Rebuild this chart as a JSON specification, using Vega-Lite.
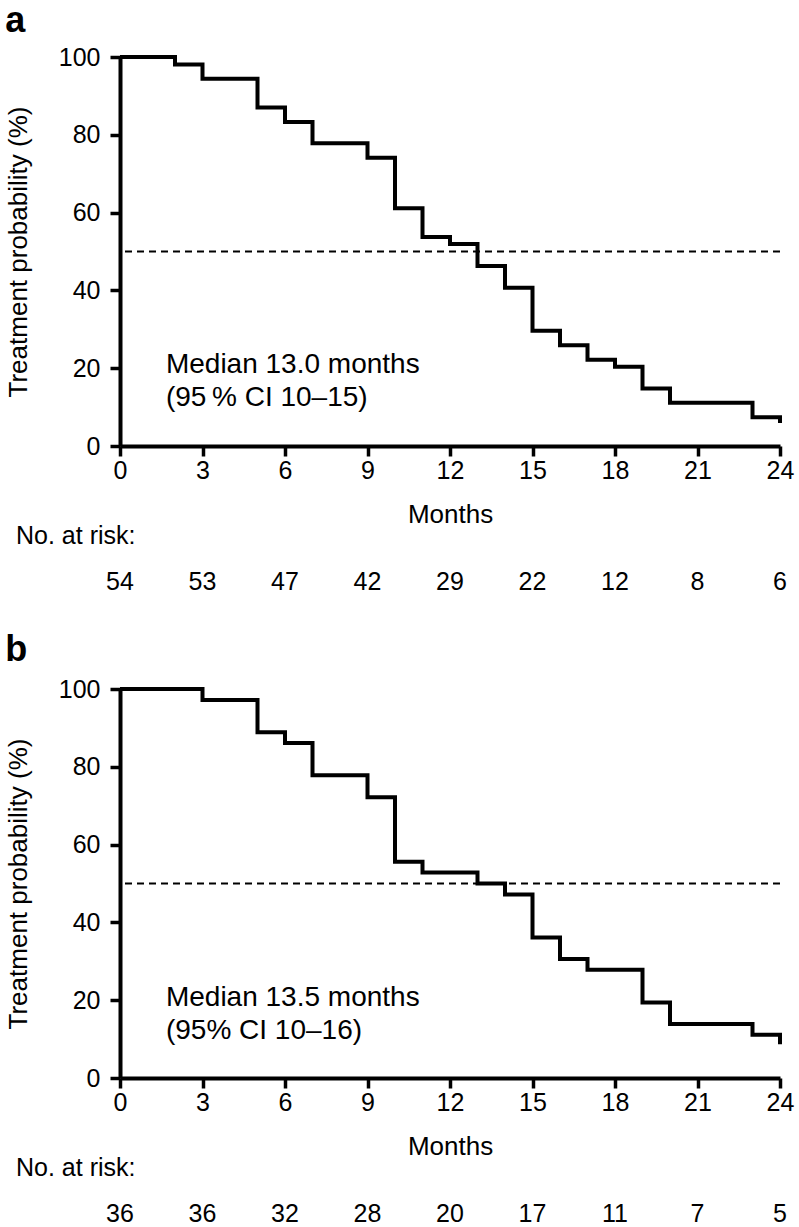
{
  "$schema": "https://vega.github.io/schema/vega-lite/v6.json",
  "background": "white",
  "padding": {"left": 5, "top": 3, "right": 12, "bottom": 0},
  "config": {
    "view": {"stroke": null},
    "font": "Liberation Sans",
    "axis": {
      "domainColor": "black", "domainWidth": 4, "tickColor": "black", "tickWidth": 3.5, "tickSize": 10,
      "labelColor": "black", "labelFontSize": 25, "labelFont": "Liberation Sans",
      "titleColor": "black", "titleFontSize": 26, "titleFontWeight": "normal", "titleFont": "Liberation Sans",
      "grid": false
    }
  },
  "datasets": {
    "a": [
      {"month": 0, "surv": 100}, {"month": 2, "surv": 98.1}, {"month": 3, "surv": 94.4}, {"month": 5, "surv": 87.0},
      {"month": 6, "surv": 83.3}, {"month": 7, "surv": 77.8}, {"month": 9, "surv": 74.1}, {"month": 10, "surv": 61.1},
      {"month": 11, "surv": 53.7}, {"month": 12, "surv": 51.9}, {"month": 13, "surv": 46.3}, {"month": 14, "surv": 40.7},
      {"month": 15, "surv": 29.6}, {"month": 16, "surv": 25.9}, {"month": 17, "surv": 22.2}, {"month": 18, "surv": 20.4},
      {"month": 19, "surv": 14.8}, {"month": 20, "surv": 11.1}, {"month": 23, "surv": 7.4}, {"month": 24, "surv": 5.9}
    ],
    "b": [
      {"month": 0, "surv": 100}, {"month": 3, "surv": 97.2}, {"month": 5, "surv": 88.9}, {"month": 6, "surv": 86.1},
      {"month": 7, "surv": 77.8}, {"month": 9, "surv": 72.2}, {"month": 10, "surv": 55.6}, {"month": 11, "surv": 52.8},
      {"month": 13, "surv": 50.0}, {"month": 14, "surv": 47.2}, {"month": 15, "surv": 36.1}, {"month": 16, "surv": 30.6},
      {"month": 17, "surv": 27.8}, {"month": 19, "surv": 19.4}, {"month": 20, "surv": 13.9}, {"month": 23, "surv": 11.1},
      {"month": 24, "surv": 8.7}
    ],
    "riskA": [
      {"month": 0, "n": 54}, {"month": 3, "n": 53}, {"month": 6, "n": 47}, {"month": 9, "n": 42}, {"month": 12, "n": 29},
      {"month": 15, "n": 22}, {"month": 18, "n": 12}, {"month": 21, "n": 8}, {"month": 24, "n": 6}
    ],
    "riskB": [
      {"month": 0, "n": 36}, {"month": 3, "n": 36}, {"month": 6, "n": 32}, {"month": 9, "n": 28}, {"month": 12, "n": 20},
      {"month": 15, "n": 17}, {"month": 18, "n": 11}, {"month": 21, "n": 7}, {"month": 24, "n": 5}
    ],
    "noteA": [{"line1": "Median 13.0 months", "line2": "(95\u2009% CI 10\u201315)"}],
    "noteB": [{"line1": "Median 13.5 months", "line2": "(95% CI 10\u201316)"}]
  },
  "spacing": 35,
  "vconcat": [
    {
      "spacing": -3,
      "vconcat": [
        {
          "title": {"text": "a", "anchor": "start", "frame": "bounds", "fontSize": 36, "fontWeight": "bold", "color": "black", "offset": 5},
          "width": 660, "height": 389,
          "layer": [
            {
              "data": {"name": "a"},
              "mark": {"type": "line", "interpolate": "step-after", "color": "black", "strokeWidth": 4, "strokeJoin": "miter"},
              "encoding": {
                "x": {"field": "month", "type": "quantitative", "scale": {"domain": [0, 24], "nice": false},
                      "axis": {"values": [0, 3, 6, 9, 12, 15, 18, 21, 24], "title": "Months", "labelPadding": 2, "titlePadding": 18, "labelFlush": false}},
                "y": {"field": "surv", "type": "quantitative", "scale": {"domain": [0, 100], "nice": false},
                      "axis": {"values": [0, 20, 40, 60, 80, 100], "title": "Treatment probability (%)", "labelPadding": 10, "titlePadding": 27}},
                "order": {"field": "month", "type": "quantitative"}
              }
            },
            {
              "data": {"name": "noteA"},
              "mark": {"type": "rule", "strokeDash": [7, 5], "strokeWidth": 1.8, "color": "black"},
              "encoding": {"y": {"datum": 50}}
            },
            {
              "data": {"name": "noteA"},
              "mark": {"type": "text", "align": "left", "baseline": "alphabetic", "fontSize": 28, "color": "black"},
              "encoding": {"x": {"datum": 1.67}, "y": {"datum": 18.8}, "text": {"field": "line1"}}
            },
            {
              "data": {"name": "noteA"},
              "mark": {"type": "text", "align": "left", "baseline": "alphabetic", "fontSize": 28, "color": "black"},
              "encoding": {"x": {"datum": 1.67}, "y": {"datum": 10.3}, "text": {"field": "line2"}}
            }
          ]
        },
        {
          "title": {"text": "No. at risk:", "anchor": "start", "frame": "group", "dx": -104, "fontSize": 25, "fontWeight": "normal", "color": "black", "offset": 18},
          "width": 660, "height": 30,
          "data": {"name": "riskA"},
          "mark": {"type": "text", "fontSize": 25, "color": "black", "baseline": "middle"},
          "encoding": {
            "x": {"field": "month", "type": "quantitative", "scale": {"domain": [0, 24], "nice": false}, "axis": null},
            "text": {"field": "n", "type": "quantitative"}
          }
        }
      ]
    },
    {
      "spacing": -3,
      "vconcat": [
        {
          "title": {"text": "b", "anchor": "start", "frame": "bounds", "fontSize": 36, "fontWeight": "bold", "color": "black", "offset": 8},
          "width": 660, "height": 389,
          "layer": [
            {
              "data": {"name": "b"},
              "mark": {"type": "line", "interpolate": "step-after", "color": "black", "strokeWidth": 4, "strokeJoin": "miter"},
              "encoding": {
                "x": {"field": "month", "type": "quantitative", "scale": {"domain": [0, 24], "nice": false},
                      "axis": {"values": [0, 3, 6, 9, 12, 15, 18, 21, 24], "title": "Months", "labelPadding": 2, "titlePadding": 18, "labelFlush": false}},
                "y": {"field": "surv", "type": "quantitative", "scale": {"domain": [0, 100], "nice": false},
                      "axis": {"values": [0, 20, 40, 60, 80, 100], "title": "Treatment probability (%)", "labelPadding": 10, "titlePadding": 27}},
                "order": {"field": "month", "type": "quantitative"}
              }
            },
            {
              "data": {"name": "noteB"},
              "mark": {"type": "rule", "strokeDash": [7, 5], "strokeWidth": 1.8, "color": "black"},
              "encoding": {"y": {"datum": 50}}
            },
            {
              "data": {"name": "noteB"},
              "mark": {"type": "text", "align": "left", "baseline": "alphabetic", "fontSize": 28, "color": "black"},
              "encoding": {"x": {"datum": 1.67}, "y": {"datum": 18.4}, "text": {"field": "line1"}}
            },
            {
              "data": {"name": "noteB"},
              "mark": {"type": "text", "align": "left", "baseline": "alphabetic", "fontSize": 28, "color": "black"},
              "encoding": {"x": {"datum": 1.67}, "y": {"datum": 9.9}, "text": {"field": "line2"}}
            }
          ]
        },
        {
          "title": {"text": "No. at risk:", "anchor": "start", "frame": "group", "dx": -104, "fontSize": 25, "fontWeight": "normal", "color": "black", "offset": 18},
          "width": 660, "height": 30,
          "data": {"name": "riskB"},
          "mark": {"type": "text", "fontSize": 25, "color": "black", "baseline": "middle"},
          "encoding": {
            "x": {"field": "month", "type": "quantitative", "scale": {"domain": [0, 24], "nice": false}, "axis": null},
            "text": {"field": "n", "type": "quantitative"}
          }
        }
      ]
    }
  ]
}
